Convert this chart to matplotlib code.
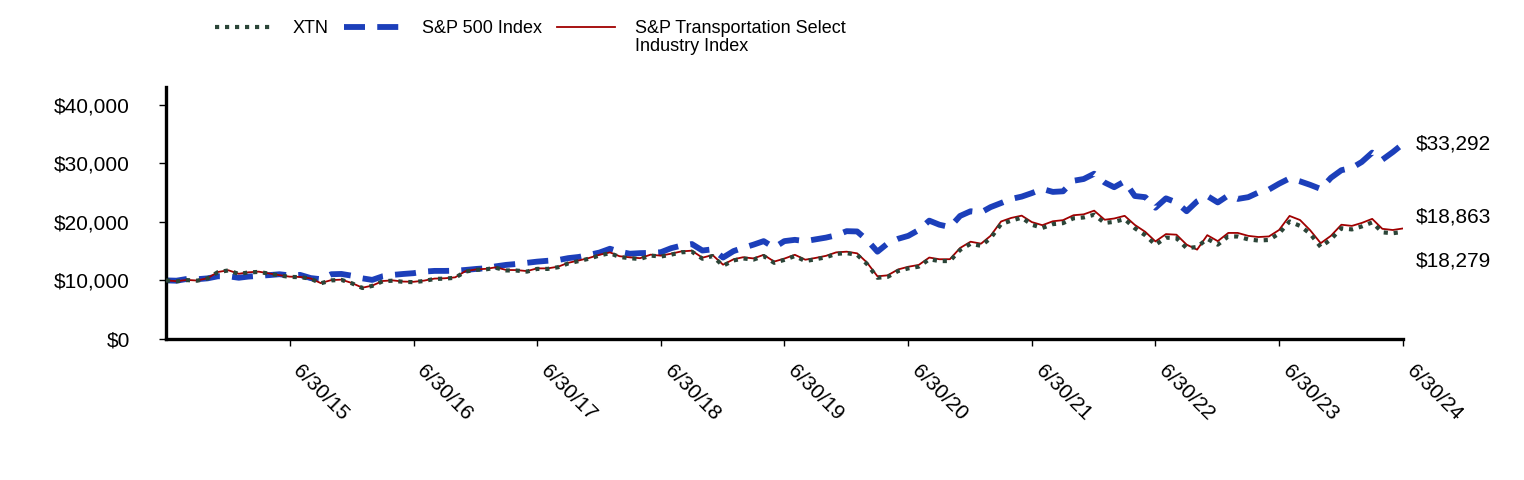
import numpy as np
import pandas as pd
import matplotlib
matplotlib.use("Agg")
import matplotlib.pyplot as plt

plt.rcParams['font.family'] = ['Liberation Sans', 'DejaVu Sans']

# month ends 6/30/14 .. 6/30/24, growth of $10,000
dates = pd.date_range('2014-06-30', '2024-06-30', freq='ME')

xtn = [10000, 9850, 10050, 9950, 10350, 11400, 11700, 11100, 11350, 11450, 11150, 10850,
       10600, 10550, 10300, 9500, 10000, 10085, 9500, 8700, 9060, 9850, 9950, 9750,
       9700, 9900, 10250, 10300, 10450, 11500, 11800, 11900, 12150, 11700, 11680, 11500,
       11960, 11960, 12250, 12900, 13300, 13700, 14250, 14650, 14000, 13790, 13650, 14240,
       14070, 14400, 14800, 14900, 13700, 14150, 12500, 13400, 13750, 13550, 14150, 13000,
       13500, 14150, 13300, 13600, 13950, 14530, 14650, 14360, 12800, 10450, 10600, 11600,
       12050, 12350, 13600, 13300, 13300, 15200, 16240, 15900, 17200, 19600, 20200, 20700,
       19500, 18950, 19600, 19770, 20600, 20740, 21200, 19800, 20000, 20450, 18900, 17700,
       16070, 17300, 17200, 15500, 15700, 17100, 16100, 17500, 17490, 17000, 16800, 16900,
       18000, 20050, 19300, 17950, 15700, 17000, 18900, 18700, 19200, 19900, 18200, 18050,
       18279]

sp500 = [10000, 9950, 10250, 10200, 10350, 10700, 10700, 10450, 10650, 10770, 10900, 11050,
         10850, 10940, 10400, 10200, 11050, 11100, 10800, 10350, 10085, 10700, 10940, 11100,
         11230, 11500, 11620, 11620, 11650, 11780, 11950, 12080, 12400, 12650, 12800, 13000,
         13200, 13350, 13470, 13800, 14000, 14350, 14750, 15400, 14900, 14550, 14650, 14700,
         14800, 15500, 15950, 16200, 15100, 15300, 13900, 15000, 15550, 16100, 16700, 15600,
         16700, 16920, 16700, 17000, 17300, 17700, 18400, 18350, 16900, 14900, 16300, 17100,
         17600, 18600, 20200, 19500, 19100, 21000, 21800, 21600, 22500, 23200, 23900, 24300,
         24900, 25600, 25100, 25200, 27000, 27300, 28200, 26700, 25900, 26900, 24400, 24200,
         22400, 24000, 23300, 21800, 23500, 24400, 23300, 24500, 23900, 24200, 25000, 25500,
         26500, 27400, 26900, 26300, 25600, 27500, 28800, 29200, 30200, 31800, 30600, 31900,
         33292]

sp_trans = [10000, 9870, 10080, 9980, 10380, 11430, 11730, 11130, 11380, 11490, 11190, 10890,
            10640, 10590, 10340, 9540, 10050, 10130, 9550, 8750, 9110, 9900, 10000, 9800,
            9760, 9960, 10310, 10360, 10520, 11570, 11870, 11980, 12230, 11780, 11760, 11590,
            12050, 12050, 12340, 13000, 13400, 13820, 14370, 14780, 14130, 13930, 13790, 14390,
            14220, 14560, 14960, 15070, 13870, 14330, 12680, 13600, 13950, 13750, 14360, 13210,
            13720, 14370, 13530, 13830, 14190, 14780, 14900, 14620, 13050, 10700, 10860, 11870,
            12330, 12640, 13900, 13610, 13620, 15530, 16600, 16270, 17600, 20050, 20660, 21050,
            19950, 19420, 20090, 20280, 21120, 21270, 21900, 20350, 20560, 21020, 19470, 18280,
            16650, 17900, 17800, 16100, 15250, 17720, 16700, 18100, 18100, 17600, 17400, 17500,
            18600, 21000, 20300, 18550, 16350, 17600, 19500, 19300, 19800, 20500, 18800, 18600,
            18863]

series_labels = ['XTN', 'S&P 500 Index', 'S&P Transportation Select']
label_line2 = 'Industry Index'
tick_dates = pd.date_range('2015-06-30', '2024-06-30', freq='12ME')
tick_labels = [d.strftime('%-m/%d/%y') for d in tick_dates]

W, H = 1524, 480
fig = plt.figure(figsize=(W / 100, H / 100), dpi=100)
ax = fig.add_axes([166/W, 1-339/H, (1403-166)/W, (339-87)/H])

l_sp, = ax.plot(dates, sp500, color='#1c3fba', lw=4.2, linestyle=(0, (3.6, 2.1)),
                dash_capstyle='butt', zorder=2)
l_tr, = ax.plot(dates, sp_trans, color='#a00000', lw=1.3, zorder=3)
l_x, = ax.plot(dates, xtn, color='#2b4538', lw=3.0, linestyle=(0, (1, 1.4)),
               dash_capstyle='butt', zorder=4)

ax.set_xlim(dates[0], dates[-1])
ax.set_ylim(0, 43000)
ax.set_yticks([0, 10000, 20000, 30000, 40000])
ax.yaxis.set_major_formatter(matplotlib.ticker.FuncFormatter(lambda v, p: '${:,.0f}'.format(v)))
ax.set_xticks(tick_dates)
ax.set_xticklabels(tick_labels, rotation=-45, ha='left', va='top')

for s in ['top', 'right']:
    ax.spines[s].set_visible(False)
ax.spines['left'].set_linewidth(2.4)
ax.spines['bottom'].set_linewidth(2.4)
ax.tick_params(axis='y', length=5, width=1, pad=21, labelsize=15)
ax.tick_params(axis='x', length=5, width=1, pad=11, labelsize=15)

# end values
ax.annotate('$33,292', xy=(dates[-1], sp500[-1]), xytext=(9, 0), textcoords='offset points',
            fontsize=15, va='center', ha='left', annotation_clip=False)
ax.annotate('$18,863', xy=(dates[-1], sp_trans[-1]), xytext=(9, 8), textcoords='offset points',
            fontsize=15, va='center', ha='left', annotation_clip=False)
ax.annotate('$18,279', xy=(dates[-1], xtn[-1]), xytext=(9, -21), textcoords='offset points',
            fontsize=15, va='center', ha='left', annotation_clip=False)

leg = fig.legend([l_x, l_sp, l_tr], series_labels, loc='upper left',
                 bbox_to_anchor=(215/W, 1-20/H), ncol=3, frameon=False, fontsize=13,
                 handlelength=3.2, handletextpad=1.1, columnspacing=0.85,
                 borderpad=0, borderaxespad=0)

# second line of the last legend label, kept under the first line
fig.canvas.draw()
bb = leg.get_texts()[2].get_window_extent()
fig.text(bb.x0 / W, (bb.y0 - 1) / H, label_line2, fontsize=13, va='top', ha='left')

fig.savefig('out.png', dpi=100)
